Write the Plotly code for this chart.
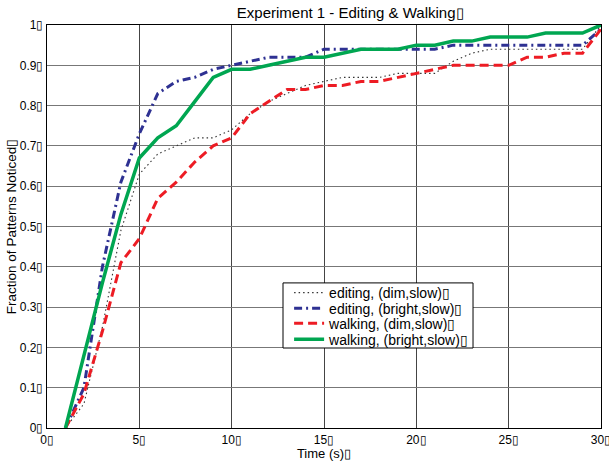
import plotly.graph_objects as go

BOX = "\u25af"

time_s = list(range(1, 31))

editing_dim = [0.0, 0.06, 0.25, 0.49, 0.63, 0.68, 0.70, 0.72, 0.72, 0.74,
               0.78, 0.81, 0.83, 0.85, 0.86, 0.87, 0.87, 0.87, 0.88, 0.88,
               0.88, 0.91, 0.93, 0.94, 0.94, 0.94, 0.94, 0.94, 0.94, 1.0]
editing_bright = [0.0, 0.10, 0.40, 0.61, 0.73, 0.83, 0.86, 0.87, 0.89, 0.90,
                  0.91, 0.92, 0.92, 0.92, 0.94, 0.94, 0.94, 0.94, 0.94, 0.94,
                  0.94, 0.95, 0.95, 0.95, 0.95, 0.95, 0.95, 0.95, 0.95, 0.99]
walking_dim = [0.0, 0.085, 0.24, 0.41, 0.47, 0.57, 0.61, 0.66, 0.70, 0.72,
               0.78, 0.81, 0.84, 0.84, 0.85, 0.85, 0.86, 0.86, 0.87, 0.88,
               0.89, 0.90, 0.90, 0.90, 0.90, 0.92, 0.92, 0.93, 0.93, 0.99]
walking_bright = [0.0, 0.18, 0.36, 0.53, 0.67, 0.72, 0.75, 0.81, 0.87, 0.89,
                  0.89, 0.90, 0.91, 0.92, 0.92, 0.93, 0.94, 0.94, 0.94, 0.95,
                  0.95, 0.96, 0.96, 0.97, 0.97, 0.97, 0.98, 0.98, 0.98, 1.0]

series_names = ["editing, (dim,slow)", "editing, (bright,slow)",
                "walking, (dim,slow)", "walking, (bright,slow)"]

x_ticks = [0, 5, 10, 15, 20, 25, 30]
x_tick_labels = [f"{v}{BOX}" for v in x_ticks]
y_ticks = [0, 0.1, 0.2, 0.3, 0.4, 0.5, 0.6, 0.7, 0.8, 0.9, 1.0]
y_tick_labels = [f"{s}{BOX}" for s in
                 ["0", "0.1", "0.2", "0.3", "0.4", "0.5", "0.6", "0.7", "0.8", "0.9", "1"]]

styles = [
    dict(color="#333333", width=1.1, dash="1.5px,3px"),
    dict(color="#2e3192", width=3, dash="8px,4px,2px,4px"),
    dict(color="#ed1c24", width=3, dash="9px,5px"),
    dict(color="#00a651", width=3.5, dash="solid"),
]
values = [editing_dim, editing_bright, walking_dim, walking_bright]

# legend geometry (paper coords)
leg_x0, leg_x1, leg_y0, leg_y1 = 0.426, 0.769, 0.1985, 0.36
row_centers = [0.335, 0.296, 0.259, 0.219]
legend_keys = ["legend", "legend2", "legend3", "legend4"]

fig = go.Figure()
for i, (name, vals, st) in enumerate(zip(series_names, values, styles)):
    fig.add_trace(go.Scatter(x=time_s, y=vals, mode="lines", name=name + BOX,
                             line=st, legend=legend_keys[i]))

font_family = "Liberation Sans, Arial, sans-serif"
layout_legends = {}
for key, yc in zip(legend_keys, row_centers):
    layout_legends[key] = dict(x=leg_x0 + 0.011, y=yc, xanchor="left", yanchor="middle",
                               bgcolor="rgba(0,0,0,0)", borderwidth=0,
                               font=dict(size=14, color="black", family=font_family),
                               itemwidth=30)

fig.add_shape(type="rect", xref="paper", yref="paper",
              x0=leg_x0, x1=leg_x1, y0=leg_y0, y1=leg_y1,
              line=dict(color="black", width=1), fillcolor="white", layer="above")

fig.update_layout(
    width=609, height=461,
    margin=dict(l=47, r=8, t=25, b=33, autoexpand=False),
    paper_bgcolor="white", plot_bgcolor="white",
    font=dict(family=font_family, size=12, color="black"),
    title=dict(text="Experiment 1 - Editing & Walking" + BOX, x=0.575, xanchor="center",
               y=0.973, yanchor="middle", font=dict(size=15, color="black")),
    showlegend=True,
    xaxis=dict(range=[0, 30], tickvals=x_ticks, ticktext=x_tick_labels,
               showgrid=True, gridcolor="#444444", gridwidth=1,
               showline=True, linecolor="black", linewidth=1.2, mirror=True,
               ticks="", zeroline=False, tickfont=dict(size=12),
               ticklabeloverflow="allow", automargin=False,
               title=dict(text="Time (s)" + BOX, font=dict(size=13), standoff=2)),
    yaxis=dict(range=[0, 1], tickvals=y_ticks, ticktext=y_tick_labels,
               showgrid=True, gridcolor="#777777", gridwidth=1,
               showline=True, linecolor="black", linewidth=1.2, mirror=True,
               ticks="", zeroline=False, tickfont=dict(size=12), automargin=False,
               title=dict(text="Fraction of Patterns Noticed" + BOX, font=dict(size=13.5), standoff=0)),
    **layout_legends,
)

fig.write_html("out.html")
